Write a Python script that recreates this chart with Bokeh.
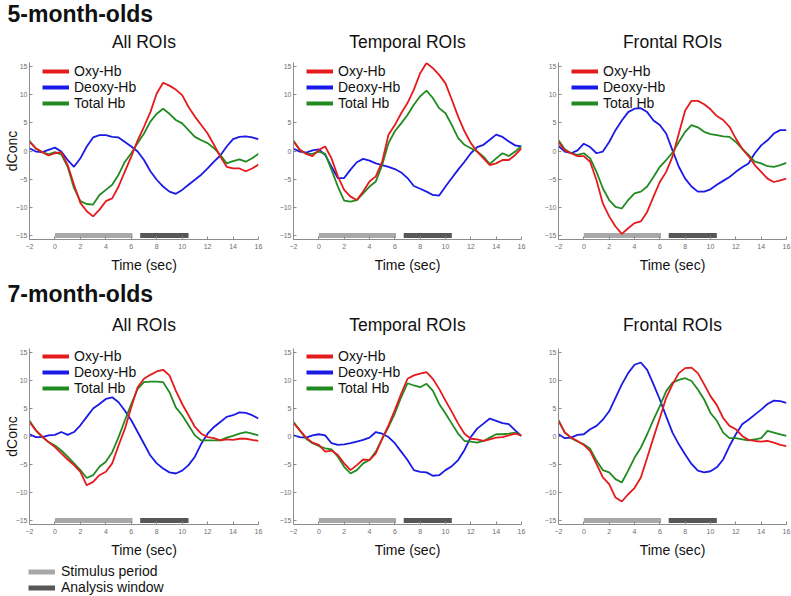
import numpy as np
from bokeh.plotting import figure
from bokeh.layouts import column, row
from bokeh.models import Range1d, FixedTicker, Legend, LegendItem, Title
from bokeh.embed import file_html
from bokeh.resources import INLINE

# ---------------- data ----------------
time_s = [-2, -1.5, -1, -0.5, 0, 0.5, 1, 1.5, 2, 2.5, 3, 3.5, 4, 4.5, 5, 5.5, 6, 6.5, 7,
          7.5, 8, 8.5, 9, 9.5, 10, 10.5, 11, 11.5, 12, 12.5, 13, 13.5, 14, 14.5, 15, 15.5, 16]

oxy_5mo_all = [1.6, 0.5, -0.2, -0.8, -0.4, -0.2, -2.5, -6.0, -9.2, -10.7, -11.6, -10.4, -8.9, -8.4, -6.3, -3.6, -1.0, 1.9, 4.3,
               6.9, 10.2, 12.1, 11.6, 10.9, 9.9, 7.8, 6.1, 4.6, 3.1, 1.1, -1.0, -2.8, -3.1, -3.1, -3.6, -3.1, -2.4]
deoxy_5mo_all = [0.5, -0.1, -0.2, 0.2, 0.6, -0.1, -1.6, -2.8, -1.3, 0.8, 2.4, 2.8, 2.8, 2.5, 2.4, 1.6, 0.8, -0.1, -1.6,
                 -3.6, -5.1, -6.3, -7.2, -7.6, -6.9, -6.0, -5.1, -4.2, -3.1, -1.9, -0.8, 0.8, 2.1, 2.5, 2.6, 2.4, 2.1]
total_5mo_all = [1.8, 0.4, -0.2, -0.6, -0.2, -0.6, -2.8, -6.6, -8.9, -9.4, -9.5, -7.8, -6.9, -6.0, -4.2, -1.9, -0.4, 1.4, 3.1,
                 5.2, 6.6, 7.5, 6.6, 5.5, 4.9, 3.7, 2.5, 1.9, 1.4, 0.5, -0.7, -2.2, -1.8, -1.5, -1.9, -1.3, -0.5]

oxy_5mo_temporal = [1.7, 0.2, -0.5, -0.9, 0.2, 0.8, -1.3, -4.5, -6.9, -8.1, -8.7, -7.2, -5.4, -4.5, -1.9, 2.9, 4.6, 6.7, 8.5,
                    10.9, 13.8, 15.6, 14.7, 13.5, 12.0, 9.1, 6.1, 3.5, 1.4, -0.1, -1.3, -2.5, -2.2, -1.6, -1.6, -0.7, 0.5]
deoxy_5mo_temporal = [0.4, -0.1, -0.3, 0.1, 0.3, -0.7, -2.8, -4.8, -4.8, -3.3, -2.0, -1.4, -1.7, -2.2, -2.5, -2.8, -3.2, -3.8, -4.8,
                      -6.2, -6.7, -7.2, -7.8, -7.9, -6.3, -4.8, -3.3, -1.9, -0.4, 0.7, 1.1, 2.0, 2.9, 2.5, 1.7, 1.0, 0.8]
total_5mo_temporal = [1.8, 0.2, -0.5, -0.5, -0.1, -0.5, -3.3, -6.3, -8.8, -9.0, -8.7, -7.5, -6.3, -5.4, -2.5, 1.4, 3.5, 4.9, 6.4,
                      8.2, 9.7, 10.7, 9.4, 7.6, 6.7, 4.6, 2.3, 1.1, 0.5, -0.1, -1.0, -2.3, -1.3, -0.4, -0.9, -0.1, 0.9]

oxy_5mo_frontal = [1.6, 0.1, -0.4, -0.9, -0.9, -1.9, -5.2, -9.3, -11.6, -13.4, -14.7, -13.7, -12.8, -12.5, -10.8, -8.1, -5.5, -3.7, -1.0,
                   3.1, 7.2, 8.9, 8.9, 8.3, 7.4, 6.2, 5.5, 4.3, 2.2, 0.4, -0.9, -2.5, -3.7, -4.9, -5.5, -5.2, -4.9]
deoxy_5mo_frontal = [0.9, -0.1, -0.4, 0.1, 1.3, 0.7, -0.4, -0.1, 1.6, 3.7, 5.4, 6.9, 7.5, 7.6, 6.9, 5.4, 4.6, 3.1, 0.1,
                     -2.8, -4.9, -6.3, -7.2, -7.2, -6.8, -6.0, -5.3, -4.6, -3.7, -2.9, -2.2, -0.4, 1.0, 1.9, 3.1, 3.7, 3.7]
total_5mo_frontal = [1.9, 0.3, -0.4, -0.7, -0.4, -1.3, -3.7, -6.6, -8.7, -9.9, -10.2, -8.7, -7.5, -7.2, -6.3, -4.6, -2.8, -1.6, -0.3,
                     1.6, 3.4, 4.6, 4.2, 3.4, 3.0, 2.8, 2.6, 2.5, 1.6, 0.4, -0.7, -1.9, -2.2, -2.7, -2.8, -2.5, -2.1]

oxy_7mo_all = [2.6, 1.1, 0.0, -1.0, -1.9, -3.0, -4.1, -5.1, -6.3, -8.7, -8.1, -6.9, -6.3, -4.8, -1.6, 1.4, 5.2, 8.8, 10.3,
               11.0, 11.6, 11.9, 10.9, 8.2, 5.8, 3.8, 1.7, 0.5, -0.1, -0.3, -0.7, -0.5, -0.6, -0.4, -0.4, -0.6, -0.8]
deoxy_7mo_all = [0.4, -0.1, -0.1, 0.2, 0.3, 0.8, 0.3, 0.8, 2.0, 3.5, 5.0, 5.8, 6.7, 7.0, 6.1, 4.6, 2.9, 0.8, -1.3,
                 -3.4, -4.8, -5.7, -6.4, -6.6, -6.1, -5.1, -3.6, -1.3, 0.5, 1.7, 2.6, 3.5, 3.8, 4.3, 4.2, 3.8, 3.2]
total_7mo_all = [2.8, 1.1, -0.1, -1.0, -1.6, -2.5, -3.6, -4.8, -6.0, -7.4, -6.9, -5.4, -4.5, -2.8, -0.1, 2.9, 5.8, 8.5, 9.7,
                 9.8, 9.8, 9.7, 7.9, 5.2, 3.8, 2.0, 0.2, -0.7, -0.7, -0.7, -0.7, -0.2, 0.1, 0.5, 0.8, 0.5, 0.2]

oxy_7mo_temporal = [2.4, 1.1, -0.2, -1.1, -1.5, -2.7, -2.5, -3.3, -4.8, -6.0, -5.1, -4.1, -4.2, -3.0, -0.4, 2.0, 4.7, 7.6, 10.3,
                    10.9, 11.2, 11.5, 10.3, 8.5, 6.4, 4.4, 2.3, 0.5, -0.4, -0.5, -0.8, -0.5, -0.2, -0.1, 0.2, 0.5, 0.2]
deoxy_7mo_temporal = [0.2, -0.1, -0.2, 0.2, 0.4, 0.2, -1.2, -1.5, -1.4, -1.2, -0.9, -0.6, -0.2, 0.8, 0.5, -0.1, -1.2, -2.7, -4.2,
                      -6.0, -6.3, -6.4, -7.0, -6.9, -6.0, -5.3, -4.2, -2.4, -0.1, 1.4, 2.3, 3.2, 2.8, 2.4, 2.2, 1.1, 0.1]
total_7mo_temporal = [2.6, 1.1, -0.4, -1.2, -1.7, -2.1, -2.3, -3.6, -5.4, -6.6, -6.0, -4.8, -4.2, -2.7, -0.4, 1.7, 4.1, 7.0, 9.5,
                      9.1, 8.8, 9.4, 8.2, 5.8, 4.1, 2.3, 0.5, -0.8, -0.9, -1.1, -0.8, -0.2, 0.4, 0.4, 0.5, 0.7, 0.1]

oxy_7mo_frontal = [2.8, 0.7, -0.2, -0.8, -1.5, -2.6, -4.9, -7.3, -8.5, -10.9, -11.6, -10.3, -9.2, -7.3, -3.8, -0.2, 3.3, 6.9, 9.3,
                   11.3, 12.2, 12.3, 11.3, 9.3, 7.2, 5.6, 3.3, 1.9, 1.3, 0.1, -0.6, -0.8, -0.9, -0.8, -1.1, -1.5, -1.7]
deoxy_7mo_frontal = [0.4, -0.3, -0.2, 0.3, 0.4, 1.3, 1.9, 3.0, 4.5, 6.9, 9.3, 11.3, 12.8, 13.2, 11.9, 9.3, 6.6, 3.6, 0.7,
                     -1.4, -3.2, -4.9, -6.1, -6.4, -6.2, -5.5, -4.1, -1.7, 0.4, 2.2, 3.0, 3.9, 4.8, 5.8, 6.4, 6.3, 6.0]
total_7mo_frontal = [2.9, 0.7, -0.3, -0.9, -1.4, -2.2, -4.3, -6.0, -6.4, -7.6, -8.2, -6.1, -3.8, -2.0, 0.4, 3.0, 5.4, 8.1, 9.6,
                     10.1, 10.4, 9.9, 8.4, 6.6, 4.2, 2.8, 0.7, -0.3, -0.3, -0.5, -0.7, -0.5, -0.3, 1.0, 0.7, 0.4, 0.1]

stimulus_period = [0.0, 6.1]
analysis_window = [6.7, 10.5]
bar_level = -15

series_names = ["Oxy-Hb", "Deoxy-Hb", "Total Hb"]
group_names = ["5-month-olds", "7-month-olds"]
roi_names = ["All ROIs", "Temporal ROIs", "Frontal ROIs"]
bar_names = ["Stimulus period", "Analysis window"]

x_ticks = [-2, 0, 2, 4, 6, 8, 10, 12, 14, 16]
x_tick_labels = ["\u22122", "0", "2", "4", "6", "8", "10", "12", "14", "16"]
y_ticks = [-15, -10, -5, 0, 5, 10, 15]
y_tick_labels = ["\u221215", "\u221210", "\u22125", "0", "5", "10", "15"]

# ---------------- styling ----------------
FONT = "Liberation Sans"
RED = "#e41a1c"
BLUE = "#1a1ae6"
GREEN = "#218a21"
LIGHT = "#a8a8a8"
DARK = "#575757"
AXIS = "#8c8c8c"
FRAME_H = 177


def style_legend(leg, size, gh):
    leg.border_line_color = None
    leg.background_fill_alpha = 0
    leg.label_text_font = FONT
    leg.label_text_font_size = size
    leg.label_text_color = "#111111"
    leg.glyph_width = 27
    leg.glyph_height = gh
    leg.label_height = gh
    leg.spacing = 0
    leg.padding = 0
    leg.margin = 0


def make_panel(roi, oxy, deoxy, total, width, height, left, right, top, bottom,
               title_standoff, ylabel=False, legend=True, header=None):
    p = figure(width=width, height=height, x_range=Range1d(-2, 16), y_range=Range1d(-15.7, 15.7),
               output_backend="svg", toolbar_location=None, title=None,
               min_border_left=left, min_border_right=right,
               min_border_top=top, min_border_bottom=bottom)
    p.outline_line_color = None
    p.grid.visible = False
    p.background_fill_color = "white"
    p.border_fill_color = "white"

    p.segment(x0=[stimulus_period[0]], x1=[stimulus_period[1]], y0=[bar_level], y1=[bar_level],
              line_color=LIGHT, line_width=5)
    p.segment(x0=[analysis_window[0]], x1=[analysis_window[1]], y0=[bar_level], y1=[bar_level],
              line_color=DARK, line_width=5)

    p.line(time_s, deoxy, line_color=BLUE, line_width=1.8)
    p.line(time_s, total, line_color=GREEN, line_width=1.8)
    p.line(time_s, oxy, line_color=RED, line_width=1.8)

    for ax in (p.xaxis[0], p.yaxis[0]):
        ax.axis_line_color = AXIS
        ax.major_tick_line_color = AXIS
        ax.major_tick_in = 3
        ax.major_tick_out = 0
        ax.minor_tick_line_color = None
        ax.major_label_text_font = FONT
        ax.major_label_text_font_size = "7px"
        ax.major_label_text_color = "#6e6e6e"
        ax.axis_label_text_font = FONT
        ax.axis_label_text_font_size = "14px"
        ax.axis_label_text_font_style = "normal"
        ax.axis_label_text_color = "#111111"

    p.xaxis.ticker = FixedTicker(ticks=x_ticks)
    p.xaxis.major_label_overrides = dict(zip(x_ticks, x_tick_labels))
    p.xaxis.major_label_standoff = 4
    p.xaxis.axis_label = "Time (sec)"
    p.xaxis.axis_label_standoff = 5

    p.yaxis.ticker = FixedTicker(ticks=y_ticks)
    p.yaxis.major_label_overrides = dict(zip(y_ticks, y_tick_labels))
    p.yaxis.major_label_standoff = 2
    if ylabel:
        p.yaxis.axis_label = "dConc"
        p.yaxis.axis_label_standoff = -7

    p.add_layout(Title(text=roi, align="center", text_font=FONT, text_font_size="17.5px",
                       text_font_style="normal", text_color="#111111", standoff=title_standoff), "above")
    if header is not None:
        p.add_layout(Title(text=header, align="left", offset=-(left - 7), text_font=FONT,
                           text_font_size="23px", text_font_style="bold", text_color="#111111",
                           standoff=-17), "above")

    if legend:
        swatches = [p.line(x=[np.nan], y=[np.nan], line_color=c, line_width=4) for c in (RED, BLUE, GREEN)]
        leg = Legend(items=[LegendItem(label=n, renderers=[r]) for n, r in zip(series_names, swatches)],
                     location=(13, FRAME_H - 49), orientation="vertical")
        style_legend(leg, "14px", 14)
        leg.label_standoff = 5
        p.add_layout(leg)
    return p


TOP_H, BOT_H = 278, 282
f1 = make_panel(roi_names[0], oxy_5mo_all, deoxy_5mo_all, total_5mo_all, 275, TOP_H, 29, 17, 62, 39,
                22, ylabel=True, header=group_names[0])
f2 = make_panel(roi_names[1], oxy_5mo_temporal, deoxy_5mo_temporal, total_5mo_temporal, 265, TOP_H, 18, 19, 62, 39, 22)
f3 = make_panel(roi_names[2], oxy_5mo_frontal, deoxy_5mo_frontal, total_5mo_frontal, 251, TOP_H, 18, 5, 62, 39, 22)

f4 = make_panel(roi_names[0], oxy_7mo_all, deoxy_7mo_all, total_7mo_all, 275, BOT_H, 29, 17, 70, 35,
                28, ylabel=True, header=group_names[1])
f5 = make_panel(roi_names[1], oxy_7mo_temporal, deoxy_7mo_temporal, total_7mo_temporal, 265, BOT_H, 18, 19, 70, 35, 28)
f6 = make_panel(roi_names[2], oxy_7mo_frontal, deoxy_7mo_frontal, total_7mo_frontal, 251, BOT_H, 18, 5, 70, 35, 28,
                legend=False)

# legend for the stimulus / analysis bars
lg = figure(width=275, height=36, x_range=Range1d(0, 1), y_range=Range1d(0, 1),
            output_backend="svg", toolbar_location=None, title=None,
            min_border_left=0, min_border_right=0, min_border_top=0, min_border_bottom=0)
lg.axis.visible = False
lg.grid.visible = False
lg.outline_line_color = None
lg.background_fill_color = "white"
lg.border_fill_color = "white"
bar_swatches = [lg.segment(x0=[np.nan], x1=[np.nan], y0=[np.nan], y1=[np.nan], line_color=c, line_width=5)
                for c in (LIGHT, DARK)]
bar_leg = Legend(items=[LegendItem(label=n, renderers=[r]) for n, r in zip(bar_names, bar_swatches)],
                 location=(28, 1), orientation="vertical")
style_legend(bar_leg, "14px", 13)
bar_leg.label_standoff = 6
lg.add_layout(bar_leg)

layout = column(row(f1, f2, f3), row(f4, f5, f6), lg)

with open("out.html", "w") as fh:
    fh.write(file_html(layout, INLINE))
